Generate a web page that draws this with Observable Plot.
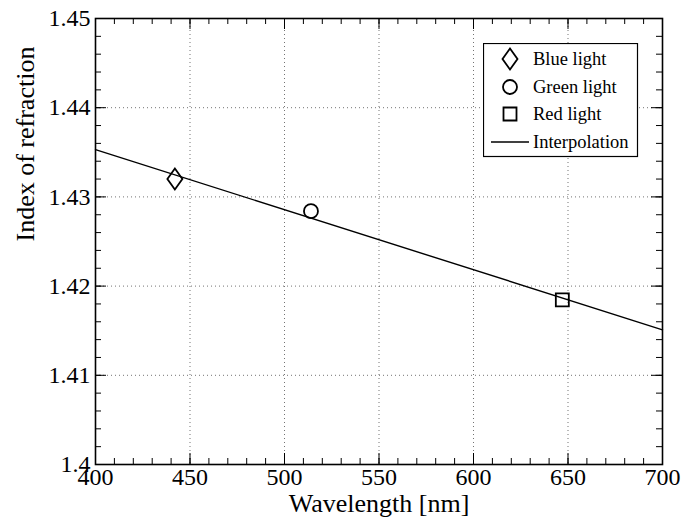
<!DOCTYPE html>
<html><head><meta charset="utf-8">
<script src="https://cdn.jsdelivr.net/npm/d3@7"></script>
<script src="https://cdn.jsdelivr.net/npm/@observablehq/plot@0.6"></script>
<style>
body{margin:0;background:#fff;}
#wrap{position:relative;width:686px;height:529px;font-family:'Liberation Serif','Times New Roman',serif;}
#legend{position:absolute;left:483px;top:43px;}
</style></head><body><div id="wrap"></div>
<script>
// ---- data ----
const seriesNames = ["Blue light", "Green light", "Red light"];
const wavelengths = [442, 514, 647];
const indices = [1.4320, 1.4284, 1.41845];
const interpWavelengths = [400, 700];
const interpIndices = [1.4353, 1.4151];
const xMajorTicks = [400, 450, 500, 550, 600, 650, 700];
const yMajorTicks = [1.40, 1.41, 1.42, 1.43, 1.44, 1.45];
const xLabel = "Wavelength [nm]";
const yLabel = "Index of refraction";
const interpName = "Interpolation";

// ---- layout ----
const W = 686, H = 529, mL = 95, mR = 24, mT = 18, mB = 65;
const fw = W - mL - mR, fh = H - mT - mB;
const xMinorTicks = d3.range(0, 31).map(i => 400 + i * 10);
const yMinorTicks = d3.range(0, 26).map(i => +(1.40 + i * 0.002).toFixed(3));
const xGrid = xMajorTicks.slice(1, -1);
const yGrid = yMajorTicks.slice(1, -1);

const diamond = {draw(c){c.moveTo(0,-10.5);c.lineTo(7.5,0);c.lineTo(0,10.5);c.lineTo(-7.5,0);c.closePath();}};
const circle = {draw(c){c.moveTo(7,0);c.arc(0,0,7,0,2*Math.PI);c.closePath();}};
const square = {draw(c){c.rect(-6.5,-6.5,13,13);}};
const symbols = [diamond, circle, square];
const points = seriesNames.map((name, i) => ({name, x: wavelengths[i], y: indices[i]}));
const interp = interpWavelengths.map((x, i) => ({x, y: interpIndices[i]}));

const font = "'Liberation Serif', 'Times New Roman', serif";
const fmt = d3.format("~g");

function xTicks(ticks, len) {
  return [
    Plot.tickX(ticks, {x: d => d, stroke: "#000", insetTop: fh - len}),
    Plot.tickX(ticks, {x: d => d, stroke: "#000", insetBottom: fh - len})
  ];
}
function yTicks(ticks, len) {
  return [
    Plot.tickY(ticks, {y: d => d, stroke: "#000", insetRight: fw - len}),
    Plot.tickY(ticks, {y: d => d, stroke: "#000", insetLeft: fw - len})
  ];
}

const chart = Plot.plot({
  width: W, height: H,
  marginLeft: mL, marginRight: mR, marginTop: mT, marginBottom: mB,
  style: {fontFamily: font, fontSize: "24px", background: "#fff", color: "#000"},
  x: {domain: [400, 700], axis: null},
  y: {domain: [1.40, 1.45], axis: null},
  marks: [
    Plot.gridX(xGrid, {stroke: "#000", strokeOpacity: 0.55, strokeDasharray: "1,3", strokeWidth: 1}),
    Plot.gridY(yGrid, {stroke: "#000", strokeOpacity: 0.55, strokeDasharray: "1,3", strokeWidth: 1}),
    ...xTicks(xMinorTicks, 6),
    ...yTicks(yMinorTicks, 6),
    ...xTicks(xMajorTicks, 11),
    ...yTicks(yMajorTicks, 11),
    Plot.axisX(xMajorTicks, {anchor: "bottom", tickSize: 0, tickPadding: 3, fontSize: 24, label: null, tickFormat: fmt}),
    Plot.axisY(yMajorTicks, {anchor: "left", tickSize: 0, tickPadding: 5, fontSize: 24, label: null, tickFormat: fmt}),
    Plot.text([xLabel], {text: d => d, frameAnchor: "bottom", dy: 47, fontSize: 26}),
    Plot.text([yLabel], {text: d => d, frameAnchor: "left", dx: -70, rotate: -90, fontSize: 26}),
    Plot.line(interp, {x: "x", y: "y", stroke: "#000", strokeWidth: 1.4}),
    ...points.map((p, i) => Plot.dot([p], {x: "x", y: "y", symbol: symbols[i], r: 7, stroke: "#000", strokeWidth: 1.8, fill: "none"})),
    Plot.frame({stroke: "#000", strokeWidth: 1.6})
  ]
});
document.getElementById("wrap").appendChild(chart);

// legend (overlay)
const lg = d3.select("#wrap").append("svg").attr("id", "legend").attr("width", 156).attr("height", 115);
lg.append("rect").attr("x", 0.5).attr("y", 0.5).attr("width", 154).attr("height", 113)
  .attr("fill", "#fff").attr("stroke", "#000").attr("stroke-width", 1.2);
const rowY = [16, 44, 71, 99];
seriesNames.forEach((name, i) => {
  lg.append("path").attr("transform", `translate(27,${rowY[i]})`)
    .attr("d", d3.symbol(symbols[i])()).attr("fill", "none").attr("stroke", "#000").attr("stroke-width", 1.8);
  lg.append("text").attr("x", 50).attr("y", rowY[i]).attr("dy", "0.35em")
    .attr("font-family", font).attr("font-size", 18.5).text(name);
});
lg.append("line").attr("x1", 8).attr("x2", 46).attr("y1", rowY[3]).attr("y2", rowY[3])
  .attr("stroke", "#000").attr("stroke-width", 1.4);
lg.append("text").attr("x", 50).attr("y", rowY[3]).attr("dy", "0.35em")
  .attr("font-family", font).attr("font-size", 18.5).text(interpName);
</script></body></html>
